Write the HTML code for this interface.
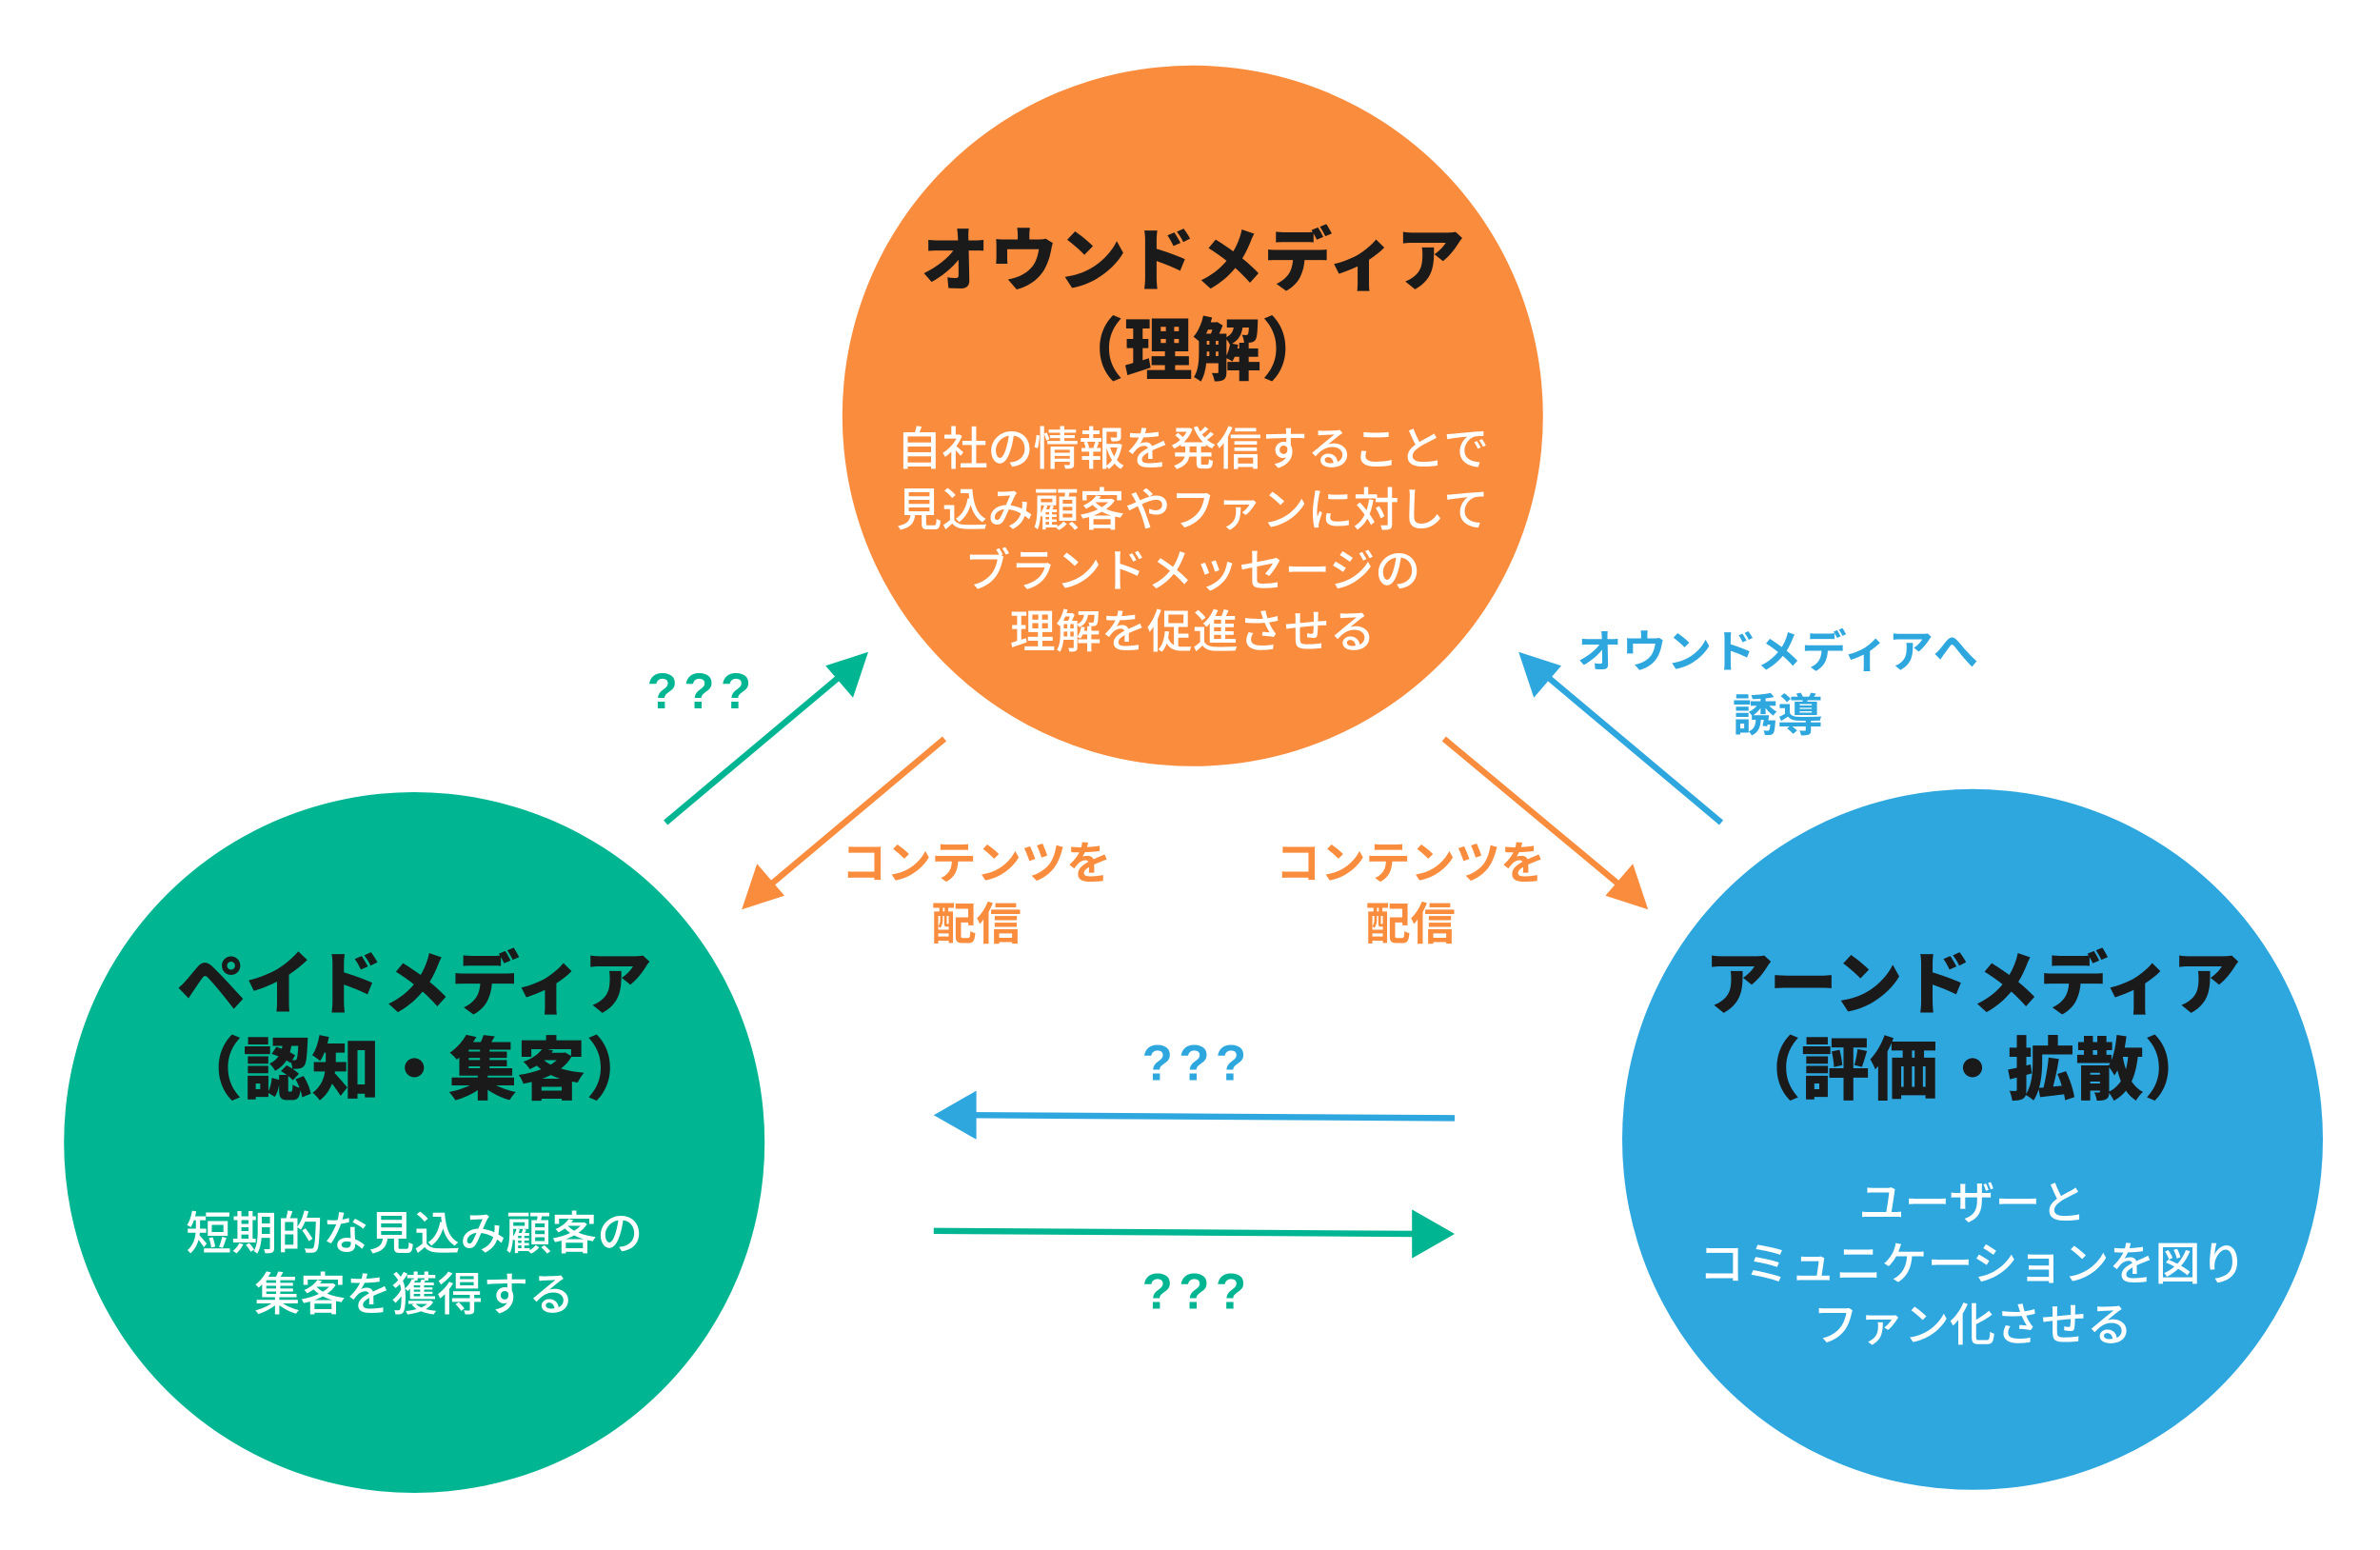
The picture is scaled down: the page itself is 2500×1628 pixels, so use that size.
<!DOCTYPE html>
<html><head><meta charset="utf-8"><style>
html,body{margin:0;padding:0;background:#fff;}
svg{display:block;}
text{font-family:"Liberation Sans","Noto Sans CJK JP",sans-serif;text-anchor:middle;}
.t{font-weight:900;font-size:45px;fill:#1a1a1a;}
.b{font-size:30px;fill:#fff;font-weight:500;}
.l{font-size:29.5px;font-weight:700;}
.q{font-size:33px;font-weight:900;letter-spacing:4px;}
</style></head><body>
<svg width="2500" height="1628" viewBox="0 0 1562.5 1017.5" xmlns="http://www.w3.org/2000/svg">
<circle cx="783" cy="273" r="230" fill="#F98C3D"/>
<circle cx="272" cy="750" r="230" fill="#00B592"/>
<circle cx="1295" cy="748" r="230" fill="#2EA7DF"/>

<text class="t" x="783" y="187">オウンドメディア</text>
<text class="t" x="783" y="246">（理解）</text>
<text class="b" x="783" y="305">自社の情報を発信することで</text>
<text class="b" x="783" y="345">見込み顧客やファンに対して</text>
<text class="b" x="783" y="385">ブランドメッセージの</text>
<text class="b" x="783" y="425">理解を促進させる</text>

<text class="t" x="272" y="662">ペイドメディア</text>
<text class="t" x="272" y="718">（認知・集客）</text>
<text class="b" x="272" y="820">短期的な見込み顧客の</text>
<text class="b" x="272" y="860">集客を獲得する</text>

<text class="t" x="1295" y="662">アーンドメディア</text>
<text class="t" x="1295" y="718">（評価・拡散）</text>
<text class="b" x="1295" y="800">ユーザーと</text>
<text class="b" x="1295" y="840">コミュニケーションを図り</text>
<text class="b" x="1295" y="880">ファン化させる</text>

<g stroke-width="4" fill="none">
<line x1="437" y1="540" x2="555" y2="441" stroke="#00B592"/>
<line x1="620" y1="485" x2="502" y2="584" stroke="#F98C3D"/>
<line x1="948" y1="485" x2="1067" y2="584" stroke="#F98C3D"/>
<line x1="1130" y1="540" x2="1012" y2="441" stroke="#2EA7DF"/>
<line x1="955" y1="734" x2="635" y2="732" stroke="#2EA7DF"/>
<line x1="613" y1="808" x2="930" y2="810" stroke="#00B592"/>
</g>
<polygon points="570,428 560,458 542,437" fill="#00B592"/>
<polygon points="487,597 497,567 515,588" fill="#F98C3D"/>
<polygon points="1082,597 1054,588 1072,567" fill="#F98C3D"/>
<polygon points="997,428 1025,437 1007,458" fill="#2EA7DF"/>
<polygon points="613,732 641,716 641,748" fill="#2EA7DF"/>
<polygon points="955,810 927,794 927,826" fill="#00B592"/>

<text class="q" x="461" y="465" fill="#00B592">???</text>
<text class="l" x="641" y="577" fill="#F98C3D">コンテンツを</text>
<text class="l" x="641" y="617" fill="#F98C3D">配信</text>
<text class="l" x="926" y="577" fill="#F98C3D">コンテンツを</text>
<text class="l" x="926" y="617" fill="#F98C3D">配信</text>
<text class="l" x="1167" y="438" fill="#2EA7DF">オウンドメディアへ</text>
<text class="l" x="1167" y="480" fill="#2EA7DF">誘導</text>
<text class="q" x="786" y="709" fill="#2EA7DF">???</text>
<text class="q" x="786" y="859" fill="#00B592">???</text>
</svg>
</body></html>
